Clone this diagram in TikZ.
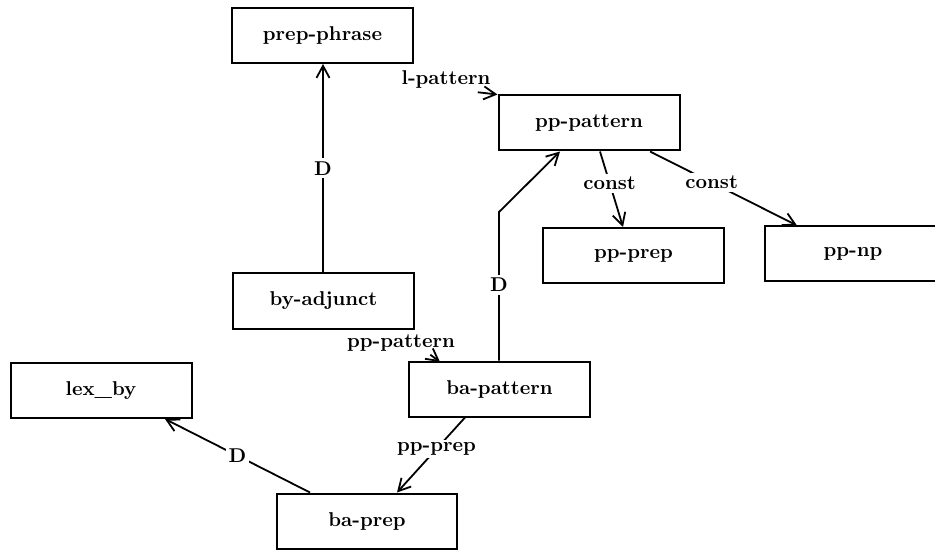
\documentclass[tikz,border=0pt]{standalone}
\usetikzlibrary{arrows.meta,calc}
\begin{document}
\begin{tikzpicture}[x=0.5pt,y=-0.5pt,
  every node/.style={font=\fontsize{10}{12}\selectfont\bfseries},
  box/.style={draw,line width=1pt,inner sep=0pt,minimum width=90.5pt,minimum height=27.5pt},
  link/.style={line width=0.9pt},
  arrow/.style={link,-{Straight Barb[length=6pt,width=6.5pt,line width=0.9pt]}},
  lbl/.style={fill=white,inner sep=1.5pt}]
\useasboundingbox (0,0) rectangle (935,550);
\clip (0,0) rectangle (935,550);

% frames
\node[box] (prepphrase) at (322.5,35.5) {prep-phrase};
\node[box] (pppattern)  at (589,123)    {pp-pattern};
\node[box] (ppprep)     at (633.5,255.5) {pp-prep};
\node[box,minimum width=88pt] (ppnp) at (853,254) {pp-np};
\node[box] (byadjunct)  at (323.5,301)  {by-adjunct};
\node[box] (bapattern)  at (499.5,389)  {ba-pattern};
\node[box] (lexby)      at (101,390.5)  {lex\_by};
\node[box,minimum width=90pt] (baprep) at (367,521) {ba-prep};

% slot labels
\node[lbl] (lpat) at (446,80)  {l-pattern};
\node[lbl] (ppat) at (401,343) {pp-pattern};

% connection points
\coordinate (dtop) at (499,212);
\coordinate (pptarget) at (440,362);

% D links
\draw[arrow] (byadjunct.north -| 323,0) -- node[lbl,pos=0.5] {D} (prepphrase.south -| 323,0);
\draw[arrow] (bapattern.north -| dtop) -- node[lbl,pos=0.51] {D} (dtop) -- (pppattern.south -| 560,0);
\draw[arrow] (baprep.north -| 310,0) -- node[lbl,pos=0.5] {D} (lexby.south -| 165,0);

% slot links
\draw[arrow] ($(lpat.south east)+(-16,0)$) -- (pppattern.north west);
\draw[arrow] ($(ppat.south east)+(-28,0)$) -- (pptarget);
\draw[arrow] (pppattern.south -| 600,0) -- node[lbl,pos=0.42] {const} (ppprep.north -| 623,0);
\draw[arrow] (pppattern.south -| 650,0) -- node[lbl,pos=0.42] {const} (ppnp.north -| 797,0);
\draw[arrow] (bapattern.south -| 465,0) -- node[lbl,pos=0.42] {pp-prep} (baprep.north -| 397,0);
\end{tikzpicture}
\end{document}
